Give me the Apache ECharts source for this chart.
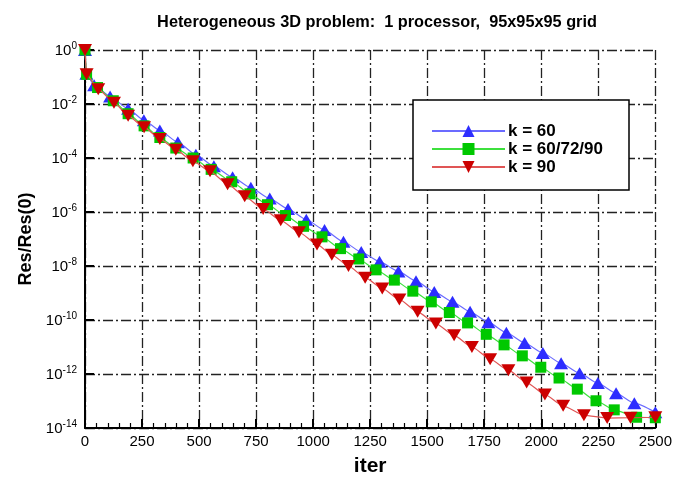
<!DOCTYPE html>
<html>
<head>
<meta charset="utf-8">
<script src="https://cdn.jsdelivr.net/npm/echarts@6/dist/echarts.min.js"></script>
<style>
html,body{margin:0;padding:0;background:#fff;}
#chart{width:675px;height:482px;}
</style>
</head>
<body>
<div id="chart"></div>
<script>
// ---- data ----
var titleText = 'Heterogeneous 3D problem:  1 processor,  95x95x95 grid';
var xName = 'iter';
var yName = 'Res/Res(0)';
var seriesNames = ['k = 60', 'k = 60/72/90', 'k = 90'];

var iterK60 = [0, 6, 40, 110, 189, 258, 328, 407, 486, 565, 647, 727, 810, 890, 970, 1050, 1133, 1211, 1291, 1374, 1451, 1531, 1611, 1688, 1768, 1847, 1927, 2007, 2087, 2168, 2248, 2328, 2408, 2500];
var resK60 = [1, 0.132, 0.05, 0.0191, 6.6e-3, 2.51e-3, 1.05e-3, 3.8e-4, 1.32e-4, 5.0e-5, 1.95e-5, 7.9e-6, 3.16e-6, 1.29e-6, 5.2e-7, 2.14e-7, 7.9e-8, 3.3e-8, 1.45e-8, 6.3e-9, 2.75e-9, 1.10e-9, 4.7e-10, 2.0e-10, 8.3e-11, 3.4e-11, 1.41e-11, 6.0e-12, 2.5e-12, 1.07e-12, 4.6e-13, 1.95e-13, 8.3e-14, 3.8e-14];

var iterK607290 = [0, 7, 55, 124, 189, 259, 328, 398, 474, 553, 643, 723, 800, 879, 958, 1039, 1120, 1200, 1276, 1356, 1437, 1518, 1597, 1677, 1759, 1837, 1917, 1998, 2078, 2158, 2240, 2320, 2418, 2500];
var resK607290 = [1, 0.126, 0.0407, 0.0132, 4.37e-3, 1.55e-3, 5.75e-4, 2.34e-4, 1.0e-4, 3.8e-5, 1.32e-5, 4.7e-6, 1.86e-6, 7.4e-7, 2.95e-7, 1.20e-7, 4.4e-8, 1.82e-8, 7.2e-9, 3.0e-9, 1.17e-9, 4.7e-10, 1.9e-10, 7.8e-11, 2.95e-11, 1.20e-11, 4.7e-12, 1.78e-12, 7.1e-13, 2.75e-13, 1.02e-13, 4.7e-14, 2.5e-14, 2.4e-14];

var iterK90 = [0, 7, 58, 127, 189, 259, 328, 398, 473, 548, 625, 700, 781, 858, 938, 1017, 1082, 1155, 1228, 1303, 1378, 1458, 1538, 1618, 1696, 1776, 1856, 1936, 2016, 2096, 2187, 2289, 2391, 2500];
var resK90 = [1, 0.126, 0.0355, 0.0112, 3.7e-3, 1.38e-3, 5.1e-4, 2.04e-4, 7.6e-5, 3.2e-5, 1.07e-5, 3.8e-6, 1.29e-6, 4.9e-7, 1.78e-7, 6.3e-8, 2.6e-8, 1.0e-8, 3.7e-9, 1.48e-9, 5.75e-10, 2.0e-10, 7.4e-11, 2.7e-11, 1.0e-11, 3.55e-12, 1.38e-12, 4.8e-13, 1.74e-13, 6.6e-14, 2.95e-14, 2.34e-14, 2.4e-14, 2.5e-14];

var xMin = 0, xMax = 2500, xInterval = 250;
var yMin = 1e-14, yMax = 1;

function pairs(xs, ys) {
  var out = [];
  for (var i = 0; i < xs.length; i++) out.push([xs[i], ys[i]]);
  return out;
}

var FONT = '"Liberation Sans", Arial, Helvetica, sans-serif';
var gridDash = [10, 3, 2, 3];

var chart = echarts.init(document.getElementById('chart'), null, {renderer: 'canvas'});
var option = {
  backgroundColor: '#ffffff',
  animation: false,
  title: {
    text: titleText,
    left: 372,
    top: 10,
    textAlign: 'center',
    textStyle: {fontFamily: FONT, fontSize: 16.3, fontWeight: 'bold', color: '#000'}
  },
  grid: {left: 85, right: 18, top: 50, bottom: 53, containLabel: false},
  legend: {
    orient: 'vertical',
    left: 413,
    top: 100,
    width: 'auto',
    padding: [22, 26, 14, 18],
    itemGap: 0,
    itemWidth: 73,
    itemHeight: 15,
    backgroundColor: '#ffffff',
    borderColor: '#000',
    borderWidth: 1.5,
    borderRadius: 0,
    textStyle: {fontFamily: FONT, fontSize: 17, lineHeight: 18, fontWeight: 'bold', color: '#000', padding: [0, 0, 0, -2]},
    data: seriesNames
  },
  xAxis: {
    type: 'value',
    min: xMin,
    max: xMax,
    interval: xInterval,
    name: xName,
    nameLocation: 'middle',
    nameGap: 28,
    nameTextStyle: {fontFamily: FONT, fontSize: 21, fontWeight: 'bold', color: '#000'},
    axisLine: {show: true, lineStyle: {color: '#000', width: 2}},
    axisTick: {show: true, inside: true, length: 9, lineStyle: {color: '#000', width: 2}},
    minorTick: {show: true, splitNumber: 5, length: 5, lineStyle: {color: '#000', width: 1.2}},
    axisLabel: {
      fontFamily: FONT, fontSize: 15, color: '#000', margin: 6,
      formatter: function (v) { return String(v); }
    },
    splitLine: {show: true, lineStyle: {color: '#222', width: 1.3, type: gridDash}}
  },
  yAxis: {
    type: 'log',
    logBase: 100,
    min: yMin,
    max: yMax,
    name: yName,
    nameLocation: 'middle',
    nameGap: 49,
    nameTextStyle: {fontFamily: FONT, fontSize: 18, fontWeight: 'bold', color: '#000'},
    axisLine: {show: true, lineStyle: {color: '#000', width: 2}},
    axisTick: {show: true, inside: true, length: 9, lineStyle: {color: '#000', width: 2}},
    axisLabel: {
      margin: 8,
      formatter: function (v) {
        var e = Math.round(Math.log10(v));
        return '{b|10}{s|' + e + '}';
      },
      rich: {
        b: {fontFamily: FONT, fontSize: 15, color: '#000', verticalAlign: 'bottom', lineHeight: 17},
        s: {fontFamily: FONT, fontSize: 10, color: '#000', verticalAlign: 'top', lineHeight: 10}
      }
    },
    splitLine: {show: true, lineStyle: {color: '#222', width: 1.3, type: gridDash}}
  },
  series: [
    {
      name: seriesNames[0],
      type: 'line',
      data: pairs(iterK60, resK60),
      smooth: 0.2,
      smoothMonotone: 'x',
      symbol: 'triangle',
      symbolSize: [14, 12],
      lineStyle: {color: '#6b6bff', width: 1.2},
      itemStyle: {color: '#2d2dff'},
      z: 2
    },
    {
      name: seriesNames[1],
      type: 'line',
      data: pairs(iterK607290, resK607290),
      smooth: 0.2,
      smoothMonotone: 'x',
      symbol: 'rect',
      symbolSize: 11,
      lineStyle: {color: '#3ee03e', width: 1.2},
      itemStyle: {color: '#00c800'},
      z: 3
    },
    {
      name: seriesNames[2],
      type: 'line',
      data: pairs(iterK90, resK90),
      smooth: 0.2,
      smoothMonotone: 'x',
      symbol: 'triangle',
      symbolRotate: 180,
      symbolSize: [14, 12],
      lineStyle: {color: '#e05555', width: 1.2},
      itemStyle: {color: '#cc0000'},
      z: 4
    }
  ]
};
chart.setOption(option);
</script>
</body>
</html>
